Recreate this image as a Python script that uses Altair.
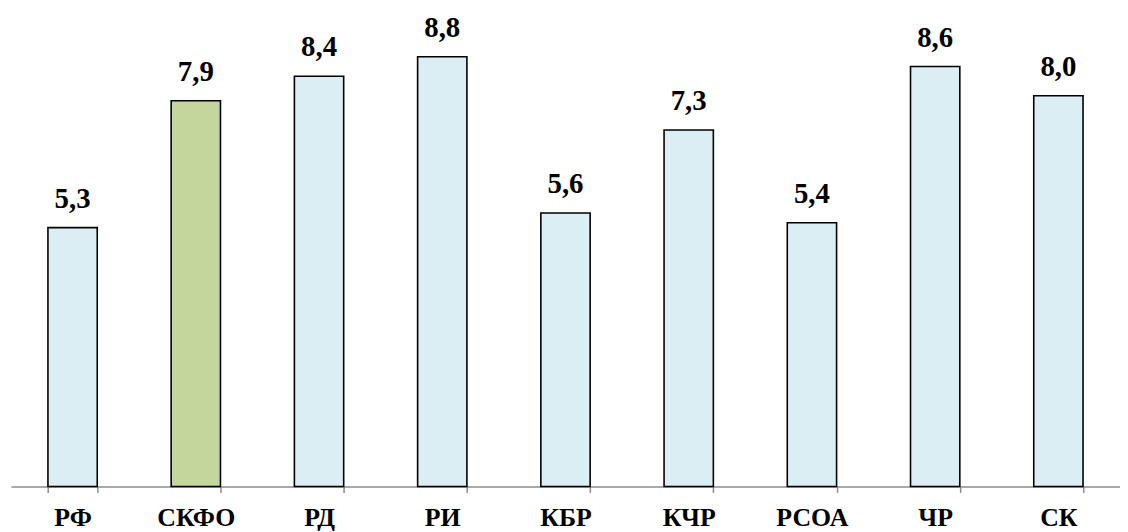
import altair as alt
import pandas as pd

categories = ["РФ", "СКФО", "РД", "РИ", "КБР", "КЧР", "РСОА", "ЧР", "СК"]
values = [5.3, 7.9, 8.4, 8.8, 5.6, 7.3, 5.4, 8.6, 8.0]
highlight = ["no", "yes", "no", "no", "no", "no", "no", "no", "no"]

df = pd.DataFrame({"cat": categories, "val": values, "hl": highlight})

FONT = "Liberation Serif"

base = alt.Chart(df).encode(
    x=alt.X(
        "cat:N",
        sort=categories,
        title=None,
        scale=alt.Scale(paddingInner=0.6, paddingOuter=0.3),
        axis=alt.Axis(
            labelAngle=0,
            labelFont=FONT,
            labelFontSize=26,
            labelFontWeight="bold",
            labelColor="black",
            labelPadding=12,
            labelBaseline="top",
            tickBand="extent",
            tickSize=6,
            tickColor="#8c8c8c",
            tickWidth=1.5,
            domainColor="#8c8c8c",
            domainWidth=1.5,
            grid=False,
        ),
    ),
    y=alt.Y("val:Q", scale=alt.Scale(domain=[0, 9.76], nice=False, zero=True), axis=None),
)

bars = base.mark_bar(stroke="black", strokeWidth=1.6).encode(
    color=alt.Color(
        "hl:N",
        scale=alt.Scale(domain=["no", "yes"], range=["#DBEEF4", "#C3D69B"]),
        legend=None,
    )
)

labels = base.transform_calculate(
    lab="replace(format(datum.val, '.1f'), '.', ',')"
).mark_text(
    font=FONT, fontSize=29, fontWeight="bold", color="black",
    baseline="alphabetic", dy=-20,
).encode(text="lab:N")

chart = (
    (bars + labels)
    .properties(width=1117, height=480, background="white",
                padding={"left": 3, "top": 0, "right": 0, "bottom": 0})
    .configure_view(strokeWidth=0, stroke="transparent")
)

chart.save("out.html", embed_options={"renderer": "svg", "actions": False})
